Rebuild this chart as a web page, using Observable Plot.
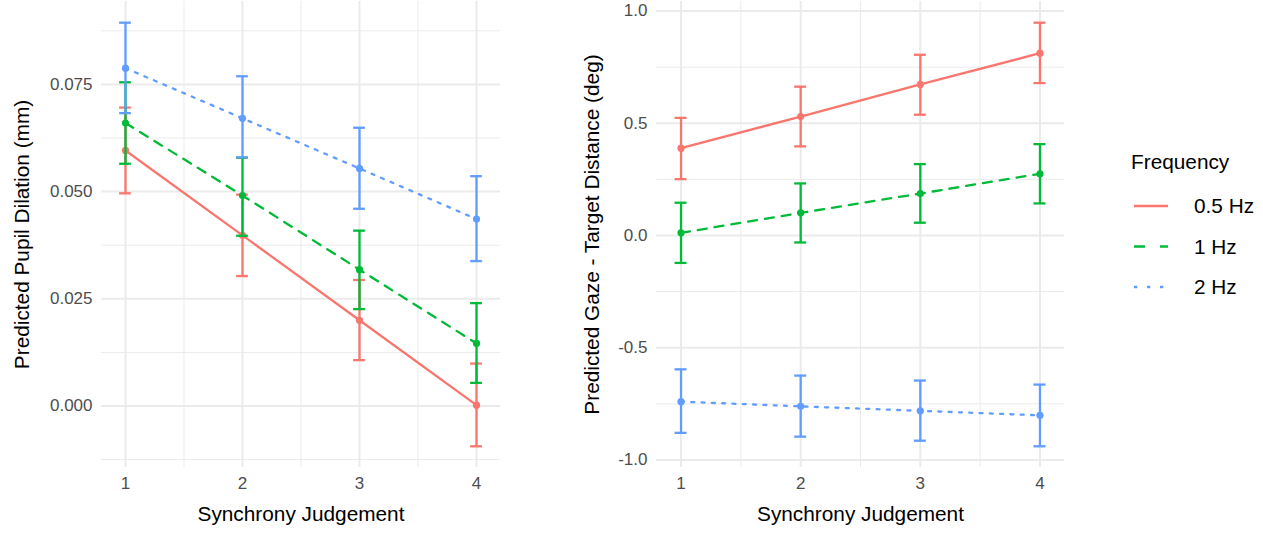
<!DOCTYPE html>
<html>
<head>
<meta charset="utf-8">
<script src="https://cdn.jsdelivr.net/npm/d3@7"></script>
<script src="https://cdn.jsdelivr.net/npm/@observablehq/plot@0.6"></script>
<style>
  html, body { margin: 0; padding: 0; background: white; }
  #wrap { position: relative; width: 1263px; height: 533px; font-family: "Liberation Sans", Arial, sans-serif; }
  #left { position: absolute; left: 0; top: 0; }
  #right { position: absolute; left: 560px; top: 0; }
  #legend { position: absolute; left: 1110px; top: 130px; }
</style>
</head>
<body>
<div id="wrap">
  <div id="left"></div>
  <div id="right"></div>
  <div id="legend"></div>
</div>
<script>
// ---- Data ----
const xs = [1, 2, 3, 4];
const freqs = ["0.5 Hz", "1 Hz", "2 Hz"];
const colors = ["#F8766D", "#00BA38", "#619CFF"];
const dashes = [null, "9,8", "3,7.3"];

// Left panel: predicted pupil dilation (mm)
const pupil05   = [0.0596, 0.0398, 0.0200, 0.0002];
const pupil05Lo = [0.0496, 0.0303, 0.0107, -0.0094];
const pupil05Hi = [0.0696, 0.0493, 0.0294, 0.0099];
const pupil1    = [0.0660, 0.0491, 0.0318, 0.0146];
const pupil1Lo  = [0.0565, 0.0397, 0.0226, 0.0054];
const pupil1Hi  = [0.0755, 0.0579, 0.0409, 0.0240];
const pupil2    = [0.0788, 0.0671, 0.0554, 0.0436];
const pupil2Lo  = [0.0683, 0.0580, 0.0460, 0.0338];
const pupil2Hi  = [0.0894, 0.0769, 0.0649, 0.0536];

// Right panel: predicted gaze - target distance (deg)
const gaze05   = [0.389, 0.530, 0.673, 0.812];
const gaze05Lo = [0.251, 0.397, 0.538, 0.679];
const gaze05Hi = [0.524, 0.663, 0.805, 0.948];
const gaze1    = [0.012, 0.101, 0.187, 0.275];
const gaze1Lo  = [-0.122, -0.031, 0.057, 0.143];
const gaze1Hi  = [0.146, 0.232, 0.318, 0.407];
const gaze2    = [-0.740, -0.761, -0.781, -0.801];
const gaze2Lo  = [-0.879, -0.896, -0.914, -0.939];
const gaze2Hi  = [-0.596, -0.624, -0.646, -0.664];

const leftYTicks = [0, 0.025, 0.05, 0.075];
const leftYMinor = [-0.0125, 0.0125, 0.0375, 0.0625, 0.0875];
const rightYTicks = [-1, -0.5, 0, 0.5, 1];
const rightYMinor = [-0.75, -0.25, 0.25, 0.75];
const xMinor = [1.5, 2.5, 3.5];
const xTitle = "Synchrony Judgement";
const leftYTitle = "Predicted Pupil Dilation (mm)";
const rightYTitle = "Predicted Gaze - Target Distance (deg)";

function buildRows(series) {
  const rows = [];
  series.forEach(([m, lo, hi], i) => {
    xs.forEach((x, j) => rows.push({x, freq: freqs[i], mean: m[j], lo: lo[j], hi: hi[j]}));
  });
  return rows;
}

function expand(lo, hi, f) { const s = hi - lo; return [lo - f * s, hi + f * s]; }

function panel({rows, yTicks, yMinor, fmt, yTitle, marginLeft, marginRight, width, yTitleDx}) {
  const capW = 0.05;
  const xDomain = expand(1 - capW, 4 + capW, 0.05);
  const yDomain = expand(d3.min(rows, d => d.lo), d3.max(rows, d => d.hi), 0.05);
  const marks = [
    Plot.gridX(xMinor, {stroke: "#ebebeb", strokeOpacity: 1, strokeWidth: 1}),
    Plot.gridY(yMinor, {stroke: "#ebebeb", strokeOpacity: 1, strokeWidth: 1}),
    Plot.gridX(xs, {stroke: "#ebebeb", strokeOpacity: 1, strokeWidth: 2}),
    Plot.gridY(yTicks, {stroke: "#ebebeb", strokeOpacity: 1, strokeWidth: 2}),
    Plot.axisX(xs, {tickSize: 0, tickPadding: 9, label: null, fontSize: 17, tickFormat: d => String(d)}),
    Plot.axisY(yTicks, {tickSize: 0, tickPadding: 9, label: null, fontSize: 17, tickFormat: fmt}),
  ];
  freqs.forEach((f, i) => {
    const sub = rows.filter(d => d.freq === f);
    marks.push(Plot.line(sub, {x: "x", y: "mean", stroke: colors[i], strokeWidth: 2.3,
      strokeDasharray: dashes[i] || undefined}));
  });
  freqs.forEach((f, i) => {
    const sub = rows.filter(d => d.freq === f);
    marks.push(Plot.ruleX(sub, {x: "x", y1: "lo", y2: "hi", stroke: colors[i], strokeWidth: 2.3}));
    marks.push(Plot.ruleY(sub, {y: "hi", x1: d => d.x - capW, x2: d => d.x + capW, stroke: colors[i], strokeWidth: 2.3}));
    marks.push(Plot.ruleY(sub, {y: "lo", x1: d => d.x - capW, x2: d => d.x + capW, stroke: colors[i], strokeWidth: 2.3}));
    marks.push(Plot.dot(sub, {x: "x", y: "mean", fill: colors[i], r: 3.6}));
  });
  marks.push(Plot.text([xTitle], {frameAnchor: "bottom", textAnchor: "middle", dy: 53, fontSize: 20.8, fill: "black"}));
  marks.push(Plot.text([yTitle], {frameAnchor: "left", textAnchor: "middle", rotate: -90, dx: yTitleDx, fontSize: 20.8, fill: "black"}));
  return Plot.plot({
    width, height: 533,
    marginTop: 1, marginBottom: 66, marginLeft, marginRight,
    x: {domain: xDomain},
    y: {domain: yDomain},
    style: {fontFamily: "'Liberation Sans', Arial, sans-serif", fontSize: "17px", color: "#4d4d4d", background: "white", overflow: "visible"},
    marks
  });
}

const leftRows = buildRows([[pupil05, pupil05Lo, pupil05Hi], [pupil1, pupil1Lo, pupil1Hi], [pupil2, pupil2Lo, pupil2Hi]]);
const rightRows = buildRows([[gaze05, gaze05Lo, gaze05Hi], [gaze1, gaze1Lo, gaze1Hi], [gaze2, gaze2Lo, gaze2Hi]]);

document.getElementById("left").append(panel({
  rows: leftRows, yTicks: leftYTicks, yMinor: leftYMinor, fmt: d => d.toFixed(3),
  yTitle: leftYTitle, marginLeft: 101, marginRight: 10, width: 510, yTitleDx: -79
}));
document.getElementById("right").append(panel({
  rows: rightRows, yTicks: rightYTicks, yMinor: rightYMinor, fmt: d => d.toFixed(1),
  yTitle: rightYTitle, marginLeft: 96, marginRight: 6, width: 510, yTitleDx: -64
}));

// ---- Legend ----
const legendDashes = [null, "11,15", "3.3,9.7"];
const lg = d3.create("svg").attr("width", 150).attr("height", 180)
  .style("font-family", "'Liberation Sans', Arial, sans-serif");
lg.append("text").attr("x", 21).attr("y", 39).attr("font-size", 20.8).attr("fill", "black").text("Frequency");
freqs.forEach((f, i) => {
  const y = 76 + i * 40.5;
  lg.append("line").attr("x1", 24).attr("x2", 58).attr("y1", y).attr("y2", y)
    .attr("stroke", colors[i]).attr("stroke-width", 2.3)
    .attr("stroke-dasharray", legendDashes[i]);
  lg.append("text").attr("x", 84).attr("y", y).attr("dy", "0.35em").attr("font-size", 20.8)
    .attr("fill", "black").text(f);
});
document.getElementById("legend").append(lg.node());
</script>
</body>
</html>
